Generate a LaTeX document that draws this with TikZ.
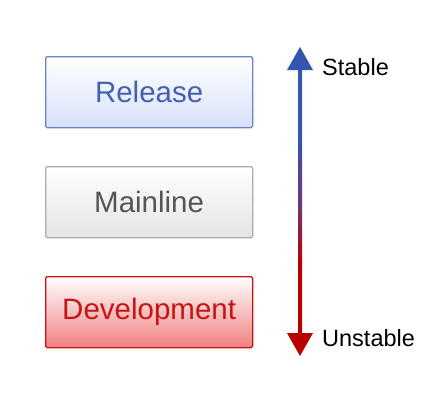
\documentclass[tikz,border=0pt]{standalone}
\usepackage{fontspec}
\setmainfont{Liberation Sans}
\definecolor{relB}{HTML}{6A84CC}
\definecolor{relF}{HTML}{D8E1FB}
\definecolor{relT}{HTML}{4460AE}
\definecolor{mainB}{HTML}{ABABAB}
\definecolor{mainF}{HTML}{E4E4E4}
\definecolor{mainT}{HTML}{555555}
\definecolor{devB}{HTML}{CC1111}
\definecolor{devF}{HTML}{EF8080}
\definecolor{devT}{HTML}{C81414}
\definecolor{arrBlue}{HTML}{3456B0}
\definecolor{arrMid}{HTML}{6A3A78}
\definecolor{arrRed}{HTML}{BB0000}
\pgfdeclareverticalshading{arrshade}{100bp}{color(0bp)=(arrRed); color(40bp)=(arrRed); color(50bp)=(arrMid); color(61bp)=(arrBlue); color(100bp)=(arrBlue)}
\begin{document}
\begin{tikzpicture}[x=1pt,y=-1pt,
  boxstyle/.style={minimum width=207pt,minimum height=71pt,inner sep=0pt,anchor=north west,
    font=\fontsize{29.5}{34}\selectfont,rounded corners=1.5pt,line width=1.3pt},
  lblstyle/.style={anchor=west,inner sep=0pt,font=\fontsize{23.5}{27}\selectfont}]
\useasboundingbox (0,0) rectangle (440,400);
\node[boxstyle,draw=relB,top color=white,bottom color=relF,text=relT] (rel) at (45,56) {Release};
\node[boxstyle,draw=mainB,top color=white,bottom color=mainF,text=mainT] (main) at (45,166) {Mainline};
\node[boxstyle,draw=devB,top color=white,bottom color=devF,text=devT] (dev) at (45,276) {Development};
\coordinate (top) at (300,47);
\coordinate (bot) at (300,356);
\shade[shading=arrshade]
  (top) -- ++(13,23) -- ++(-11,0) -- (302,333) -- (313,333) -- (bot) -- (287,333) -- (298,333) -- (298,70) -- (287,70) -- cycle;
\node[lblstyle] (stable) at (322,67) {Stable};
\node[lblstyle] (unstable) at (322,338) {Unstable};
\end{tikzpicture}
\end{document}
